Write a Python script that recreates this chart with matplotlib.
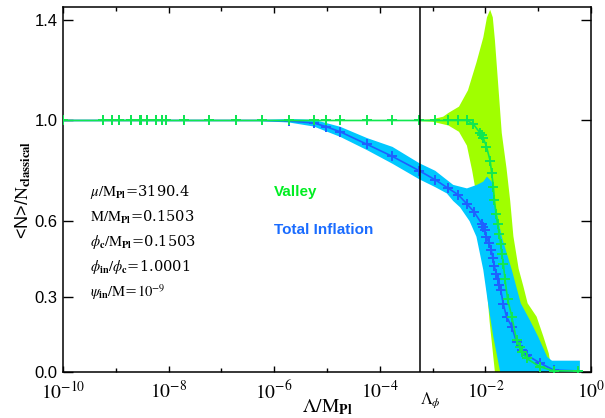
import matplotlib
matplotlib.use("Agg")
import matplotlib.pyplot as plt
import numpy as np

# x values are stored as log10(Lambda/M_Pl)
valley_logx = [-10.0, -9.24, -9.08, -8.93, -8.71, -8.54, -8.52, -8.40, -8.23, -8.13,
               -8.04, -7.71, -7.23, -6.72, -6.24, -5.72, -5.25, -5.01, -4.75, -4.24,
               -3.76, -3.25, -2.95, -2.70, -2.51, -2.35, -2.23, -2.10, -2.07, -2.04,
               -1.98, -1.91, -1.88, -1.85, -1.83, -1.80, -1.77, -1.74, -1.71, -1.69,
               -1.66, -1.63, -1.58, -1.50, -1.41, -1.34, -1.31, -1.22, -0.97, -0.71, -0.24]
valley_n = [1.0, 1.0, 1.0, 1.0, 1.0, 1.0, 1.0, 1.0, 1.0, 1.0,
            1.0, 1.0, 1.0, 1.0, 1.0, 1.0, 1.0, 1.0, 1.0, 1.0,
            1.0, 1.0, 1.0, 1.0, 1.0, 1.0, 0.986, 0.95, 0.943, 0.93,
            0.896, 0.84, 0.79, 0.737, 0.684, 0.63, 0.59, 0.55, 0.51, 0.47,
            0.43, 0.37, 0.29, 0.22, 0.127, 0.10, 0.08, 0.054, 0.021, 0.005, 0.004]

total_logx = [-10.0, -9.24, -9.08, -8.93, -8.71, -8.54, -8.52, -8.40, -8.23, -8.13,
              -8.04, -7.71, -7.23, -6.72, -6.24, -5.72, -5.25, -5.01, -4.75, -4.24,
              -3.76, -3.25, -2.95, -2.70, -2.51, -2.35, -2.22, -2.07, -2.04, -2.01,
              -1.98, -1.93, -1.89, -1.86, -1.83, -1.79, -1.77, -1.74, -1.71, -1.66,
              -1.60, -1.50, -1.41, -1.31, -1.22, -0.97, -0.71, -0.24]
total_n = [1.0, 1.0, 1.0, 1.0, 1.0, 1.0, 1.0, 1.0, 1.0, 1.0,
           1.0, 1.0, 1.0, 1.0, 1.0, 0.998, 0.99, 0.975, 0.955, 0.905,
           0.857, 0.80, 0.764, 0.73, 0.704, 0.668, 0.638, 0.59, 0.578, 0.565,
           0.535, 0.512, 0.485, 0.455, 0.42, 0.39, 0.37, 0.345, 0.326, 0.27,
           0.22, 0.18, 0.12, 0.088, 0.068, 0.036, 0.008, 0.004]

# spread of <N> (outline of the shaded regions)
valley_upper_logx = [-3.50, -3.00, -2.80, -2.70, -2.50, -2.33, -2.17, -2.04, -1.97, -1.91,
                     -1.86, -1.82, -1.76, -1.69, -1.60, -1.53, -1.47, -1.37, -1.28, -1.20,
                     -1.03, -0.90, -0.80, -0.74]
valley_upper_n = [1.0, 1.005, 1.015, 1.03, 1.055, 1.12, 1.23, 1.33, 1.41, 1.44,
                  1.41, 1.32, 1.15, 0.95, 0.81, 0.68, 0.54, 0.41, 0.34, 0.273,
                  0.22, 0.14, 0.074, 0.0]
valley_lower_logx = [-3.50, -3.00, -2.70, -2.50, -2.35, -2.25, -2.20, -2.17, -2.10, -2.02,
                     -1.96, -1.92, -1.87, -1.82]
valley_lower_n = [1.0, 0.995, 0.98, 0.955, 0.90, 0.80, 0.74, 0.68, 0.55, 0.42,
                  0.30, 0.20, 0.10, 0.0]

total_upper_logx = [-6.50, -5.72, -5.25, -4.75, -4.24, -3.76, -3.25, -2.95, -2.61, -2.35,
                    -2.16, -2.04, -1.97, -1.88, -1.82, -1.69, -1.50, -1.33, -1.16, -1.00,
                    -0.83, -0.74, -0.72, -0.21, -0.21]
total_upper_n = [1.0, 1.006, 1.003, 0.975, 0.93, 0.895, 0.83, 0.80, 0.744, 0.73,
                 0.744, 0.757, 0.777, 0.757, 0.671, 0.538, 0.406, 0.273, 0.207, 0.14,
                 0.06, 0.045, 0.045, 0.045, 0.0]
total_lower_logx = [-6.50, -5.72, -5.25, -4.75, -4.24, -3.76, -3.25, -2.95, -2.73, -2.61,
                    -2.48, -2.30, -2.17, -2.04, -1.95, -1.85, -1.72]
total_lower_n = [1.0, 0.992, 0.976, 0.935, 0.882, 0.828, 0.766, 0.735, 0.71, 0.68,
                 0.655, 0.60, 0.538, 0.406, 0.273, 0.14, 0.0]

lambda_phi_log = -3.245

params = [
    r"$\mu/\mathrm{M}_{\mathbf{Pl}}$=3190.4",
    r"$\mathrm{M}/\mathrm{M}_{\mathbf{Pl}}$=0.1503",
    r"$\phi_{\mathbf{c}}/\mathrm{M}_{\mathbf{Pl}}$=0.1503",
    r"$\phi_{\mathbf{in}}/\phi_{\mathbf{c}}$=1.0001",
    r"$\psi_{\mathbf{in}}/\mathrm{M}$=$10^{-9}$",
]

plt.rcParams["mathtext.fontset"] = "stix"
plt.rcParams["font.family"] = ["Liberation Sans", "DejaVu Sans"]

fig = plt.figure(figsize=(6.05, 4.18), dpi=100)
ax = fig.add_axes([63 / 605, 46 / 418, 528 / 605, 364.7 / 418])


def band(ux, un, lx, ln):
    xs = list(ux) + list(lx)[::-1]
    ys = list(un) + list(ln)[::-1]
    return 10 ** np.array(xs), np.array(ys)


vx, vy = band(valley_upper_logx, valley_upper_n, valley_lower_logx, valley_lower_n)
tx, ty = band(total_upper_logx, total_upper_n, total_lower_logx, total_lower_n)
ax.fill(vx, vy, color="#a0ff00", lw=0, zorder=1)
ax.fill(tx, ty, color="#00c8ff", lw=0, zorder=2)

ax.plot(10 ** np.array(total_logx), total_n, color="#1e60ff", lw=1.2,
        marker="+", ms=7, mew=1.4, zorder=3)
ax.plot(10 ** np.array(valley_logx), valley_n, color="#10e850", lw=1.2,
        marker="+", ms=7, mew=1.4, zorder=4)
ax.axvline(10 ** lambda_phi_log, color="k", lw=1.1, zorder=5)

ax.set_xscale("log")
ax.set_xlim(1e-10, 1)
ax.set_ylim(0, 1.45)

major = [1e-10, 1e-8, 1e-6, 1e-4, 1e-2, 1]
ax.set_xticks(major)
ax.set_xticklabels([r"$10^{-10}$", r"$10^{-8}$", r"$10^{-6}$", r"$10^{-4}$",
                    r"$10^{-2}$", r"$10^{0}$"], fontsize=14)
ax.set_xticks([1e-9, 1e-7, 1e-5, 1e-3, 1e-1], minor=True)
ax.set_xticklabels([], minor=True)
ax.set_yticks([0.0, 0.3, 0.6, 1.0, 1.4])
ax.set_yticklabels(["0.0", "0.3", "0.6", "1.0", "1.4"], fontsize=12)

ax.tick_params(axis="x", which="major", direction="in", length=4, width=1,
               top=True, pad=6)
ax.tick_params(axis="x", which="minor", direction="in", length=3, width=1, top=True)
ax.tick_params(axis="y", direction="in", length=7, width=1, right=True, pad=4)
for s in ax.spines.values():
    s.set_linewidth(1.1)

ax.set_ylabel(r"<N>/$\mathrm{N}_{\mathbf{classical}}$", fontsize=13, labelpad=1)
ax.text(0.5, -0.07, r"$\Lambda/\mathrm{M}_{\mathbf{Pl}}$", transform=ax.transAxes,
        ha="center", va="top", fontsize=14)
ax.annotate(r"$\Lambda_{\phi}$", xy=(10 ** lambda_phi_log, 0),
            xycoords=("data", "axes fraction"), xytext=(0, -13),
            textcoords="offset points", ha="left", va="top", fontsize=12)

for i, s in enumerate(params):
    ax.text(3.2e-10, 0.715 - i * 0.099, s, fontsize=10.5, va="center", ha="left",
            family=["DejaVu Serif"])

ax.text(1.0e-6, 0.715, "Valley", color="#00ee22", fontsize=11,
        fontweight="bold", va="center")
ax.text(1.0e-6, 0.565, "Total Inflation", color="#1a6cff", fontsize=11,
        fontweight="bold", va="center")

fig.savefig("out.png", dpi=100)
